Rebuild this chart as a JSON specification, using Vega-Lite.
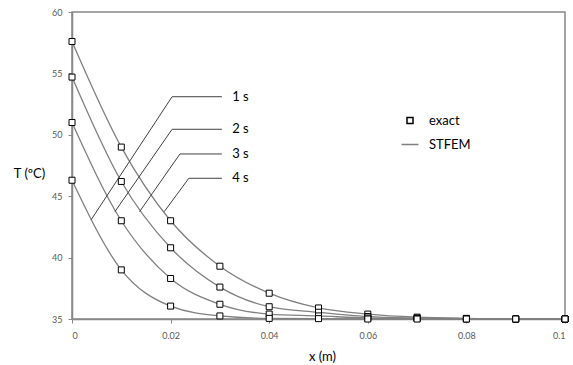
{
  "$schema": "https://vega.github.io/schema/vega-lite/v6.json",
  "width": 493,
  "height": 307,
  "autosize": {"type": "none"},
  "padding": {"left": 72, "top": 12, "right": 8, "bottom": 46},
  "background": "white",
  "config": {
    "font": "Lato",
    "view": {"stroke": "#888888", "strokeWidth": 1.5},
    "axis": {
      "grid": false,
      "domainColor": "#888888",
      "domainWidth": 1.5,
      "tickColor": "#888888",
      "tickSize": 4,
      "labelColor": "#595959",
      "labelFontSize": 9,
      "labelFont": "Lato",
      "titleFont": "Lato",
      "titleFontWeight": "normal",
      "titleFontSize": 13,
      "titleColor": "#000000"
    },
    "legend": {"labelFont": "Lato"}
  },
  "datasets": {
    "temps": [
      {"time": "4 s", "kind": "exact", "x": 0, "T": 57.6},
      {"time": "4 s", "kind": "exact", "x": 0.01, "T": 49.0},
      {"time": "4 s", "kind": "exact", "x": 0.02, "T": 43.0},
      {"time": "4 s", "kind": "exact", "x": 0.03, "T": 39.3},
      {"time": "4 s", "kind": "exact", "x": 0.04, "T": 37.1},
      {"time": "4 s", "kind": "exact", "x": 0.05, "T": 35.9},
      {"time": "4 s", "kind": "exact", "x": 0.06, "T": 35.4},
      {"time": "4 s", "kind": "exact", "x": 0.07, "T": 35.15},
      {"time": "4 s", "kind": "exact", "x": 0.08, "T": 35.05},
      {"time": "4 s", "kind": "exact", "x": 0.09, "T": 35.0},
      {"time": "4 s", "kind": "exact", "x": 0.1, "T": 35.0},
      {"time": "3 s", "kind": "exact", "x": 0, "T": 54.7},
      {"time": "3 s", "kind": "exact", "x": 0.01, "T": 46.2},
      {"time": "3 s", "kind": "exact", "x": 0.02, "T": 40.8},
      {"time": "3 s", "kind": "exact", "x": 0.03, "T": 37.6},
      {"time": "3 s", "kind": "exact", "x": 0.04, "T": 36.0},
      {"time": "3 s", "kind": "exact", "x": 0.05, "T": 35.55},
      {"time": "3 s", "kind": "exact", "x": 0.06, "T": 35.2},
      {"time": "3 s", "kind": "exact", "x": 0.07, "T": 35.08},
      {"time": "3 s", "kind": "exact", "x": 0.08, "T": 35.02},
      {"time": "3 s", "kind": "exact", "x": 0.09, "T": 35.0},
      {"time": "3 s", "kind": "exact", "x": 0.1, "T": 35.0},
      {"time": "2 s", "kind": "exact", "x": 0, "T": 51.0},
      {"time": "2 s", "kind": "exact", "x": 0.01, "T": 43.0},
      {"time": "2 s", "kind": "exact", "x": 0.02, "T": 38.3},
      {"time": "2 s", "kind": "exact", "x": 0.03, "T": 36.2},
      {"time": "2 s", "kind": "exact", "x": 0.04, "T": 35.4},
      {"time": "2 s", "kind": "exact", "x": 0.05, "T": 35.25},
      {"time": "2 s", "kind": "exact", "x": 0.06, "T": 35.08},
      {"time": "2 s", "kind": "exact", "x": 0.07, "T": 35.03},
      {"time": "2 s", "kind": "exact", "x": 0.08, "T": 35.0},
      {"time": "2 s", "kind": "exact", "x": 0.09, "T": 35.0},
      {"time": "2 s", "kind": "exact", "x": 0.1, "T": 35.0},
      {"time": "1 s", "kind": "exact", "x": 0, "T": 46.3},
      {"time": "1 s", "kind": "exact", "x": 0.01, "T": 39.0},
      {"time": "1 s", "kind": "exact", "x": 0.02, "T": 36.05},
      {"time": "1 s", "kind": "exact", "x": 0.03, "T": 35.25},
      {"time": "1 s", "kind": "exact", "x": 0.04, "T": 35.05},
      {"time": "1 s", "kind": "exact", "x": 0.05, "T": 35.03},
      {"time": "1 s", "kind": "exact", "x": 0.06, "T": 35.0},
      {"time": "1 s", "kind": "exact", "x": 0.07, "T": 35.0},
      {"time": "1 s", "kind": "exact", "x": 0.08, "T": 35.0},
      {"time": "1 s", "kind": "exact", "x": 0.09, "T": 35.0},
      {"time": "1 s", "kind": "exact", "x": 0.1, "T": 35.0}
    ],
    "leaders": [
      {"label": "1 s", "step": 1, "x": 0.00385, "T": 43.06},
      {"label": "1 s", "step": 2, "x": 0.0203, "T": 53.1},
      {"label": "1 s", "step": 3, "x": 0.0304, "T": 53.1},
      {"label": "2 s", "step": 1, "x": 0.0087, "T": 43.74},
      {"label": "2 s", "step": 2, "x": 0.0203, "T": 50.45},
      {"label": "2 s", "step": 3, "x": 0.0304, "T": 50.45},
      {"label": "3 s", "step": 1, "x": 0.0137, "T": 43.74},
      {"label": "3 s", "step": 2, "x": 0.0219, "T": 48.44},
      {"label": "3 s", "step": 3, "x": 0.0304, "T": 48.44},
      {"label": "4 s", "step": 1, "x": 0.0187, "T": 43.74},
      {"label": "4 s", "step": 2, "x": 0.0237, "T": 46.46},
      {"label": "4 s", "step": 3, "x": 0.0304, "T": 46.46}
    ],
    "labels": [
      {"label": "1 s", "x": 0.0325, "T": 53.1},
      {"label": "2 s", "x": 0.0325, "T": 50.45},
      {"label": "3 s", "x": 0.0325, "T": 48.44},
      {"label": "4 s", "x": 0.0325, "T": 46.46}
    ]
  },
  "layer": [
    {
      "data": {"name": "temps"},
      "mark": {"type": "line", "interpolate": "monotone", "color": "#808080", "strokeWidth": 1.3},
      "encoding": {
        "x": {
          "field": "x", "type": "quantitative",
          "scale": {"domain": [0, 0.1], "nice": false},
          "axis": {"values": [0, 0.02, 0.04, 0.06, 0.08, 0.1], "format": "~g", "labelPadding": 8, "title": "x (m)", "titleX": 250, "titleY": 37, "titleBaseline": "middle"}
        },
        "y": {
          "field": "T", "type": "quantitative",
          "scale": {"domain": [35, 60], "nice": false, "zero": false},
          "axis": {"values": [35, 40, 45, 50, 55, 60], "labelPadding": 6, "title": "T (ºC)", "titleAngle": 0, "titleX": -43, "titleY": 161, "titleAlign": "center", "titleBaseline": "middle"}
        },
        "detail": {"field": "time"}
      }
    },
    {
      "data": {"name": "leaders"},
      "mark": {"type": "line", "color": "#404040", "strokeWidth": 1},
      "encoding": {
        "x": {"field": "x", "type": "quantitative"},
        "y": {"field": "T", "type": "quantitative"},
        "detail": {"field": "label"},
        "order": {"field": "step"}
      }
    },
    {
      "data": {"name": "labels"},
      "mark": {"type": "text", "align": "left", "baseline": "middle", "fontSize": 13, "color": "#000000"},
      "encoding": {
        "x": {"field": "x", "type": "quantitative"},
        "y": {"field": "T", "type": "quantitative"},
        "text": {"field": "label"}
      }
    },
    {
      "data": {"name": "temps"},
      "mark": {"type": "point", "filled": false, "fill": "white", "strokeWidth": 1, "opacity": 1},
      "encoding": {
        "x": {"field": "x", "type": "quantitative"},
        "y": {"field": "T", "type": "quantitative"},
        "shape": {
          "field": "kind", "type": "nominal",
          "scale": {"domain": ["exact", "STFEM"], "range": ["square", "stroke"]},
          "legend": {"title": null, "orient": "none", "legendX": 328.5, "legendY": 102, "padding": 0, "labelFontSize": 13, "labelColor": "#000000", "labelOffset": 9.5, "rowPadding": 7, "symbolStrokeWidth": 1.5, "symbolFillColor": "white"}
        },
        "stroke": {
          "field": "kind", "type": "nominal",
          "scale": {"domain": ["exact", "STFEM"], "range": ["#000000", "#808080"]}
        },
        "size": {
          "field": "kind", "type": "nominal",
          "scale": {"type": "ordinal", "domain": ["exact", "STFEM"], "range": [36, 289]}
        }
      }
    }
  ]
}
